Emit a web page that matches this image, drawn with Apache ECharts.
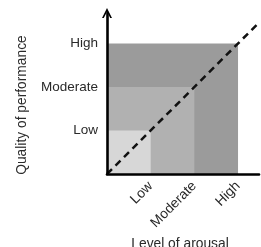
<!DOCTYPE html>
<html>
<head>
<meta charset="utf-8">
<script src="https://cdn.jsdelivr.net/npm/echarts@6/dist/echarts.min.js"></script>
<style>html,body{margin:0;padding:0;background:#fff}#c{width:261px;height:247px}</style>
</head>
<body>
<div id="c"></div>
<script>
// Data
const levelNames = ['Low', 'Moderate', 'High'];
const levelValues = [1, 2, 3];
const squareLevels = [3, 2, 1];            // outer → inner
const squareColors = ['#9b9b9b', '#b1b1b1', '#d7d7d7'];
const diagonal = [[0, 0], [3.43, 3.43]];
const xTitle = 'Level of arousal';
const yTitle = 'Quality of performance';

const chart = echarts.init(document.getElementById('c'), null, {renderer: 'canvas'});
const font = 'Liberation Sans, Arial, sans-serif';
const labelFmt = v => { const i = levelValues.indexOf(Math.round(v)); return Math.abs(v - Math.round(v)) < 1e-6 && i >= 0 ? levelNames[i] : ''; };

chart.setOption({
  animation: false,
  grid: {left: 107, right: 2, top: 13, bottom: 73, containLabel: false, outerBoundsMode: 'none'},
  xAxis: {
    type: 'value', min: 0, max: 3.48, z: 10,
    splitLine: {show: false}, axisTick: {show: false},
    axisLine: {lineStyle: {color: '#000', width: 2.6}},
    axisLabel: {customValues: levelValues, formatter: labelFmt, rotate: 45, margin: 10,
      color: '#2a2a2a', fontSize: 13.8, fontFamily: font},
    name: xTitle, nameLocation: 'middle', nameGap: 60,
    nameTextStyle: {color: '#2a2a2a', fontSize: 13.8, fontFamily: font, padding: [0, 6, 0, 0]}
  },
  yAxis: {
    type: 'value', min: 0, max: 3.7, z: 10,
    splitLine: {show: false}, axisTick: {show: false},
    axisLine: {lineStyle: {color: '#000', width: 2.6},
      symbol: ['none', 'path://M0,10 L5,0 L10,10 L8.2,10 L5,3.8 L1.8,10 Z'], symbolSize: [11, 10], symbolOffset: [0, 0]},
    axisLabel: {customValues: levelValues, formatter: labelFmt, margin: 9,
      color: '#2a2a2a', fontSize: 13.5, fontFamily: font}
  },
  graphic: [{
    type: 'text', x: 22, y: 105, rotation: Math.PI / 2,
    style: {text: yTitle, fill: '#2a2a2a', font: '13.8px ' + font, align: 'center', verticalAlign: 'middle'}
  }],
  series: [{
    type: 'custom',
    data: squareLevels.map((v, i) => [v, i]),
    renderItem: (params, api) => {
      const v = api.value(0), idx = api.value(1);
      const p0 = api.coord([0, 0]), p1 = api.coord([v, v]);
      return {type: 'rect', shape: {x: p0[0], y: p1[1], width: p1[0] - p0[0], height: p0[1] - p1[1]},
        style: {fill: squareColors[idx]}};
    },
    z: 1
  }, {
    type: 'line', data: diagonal, showSymbol: false, z: 5,
    lineStyle: {color: '#111', width: 2.5, type: [7, 5]}
  }]
});
</script>
</body>
</html>
